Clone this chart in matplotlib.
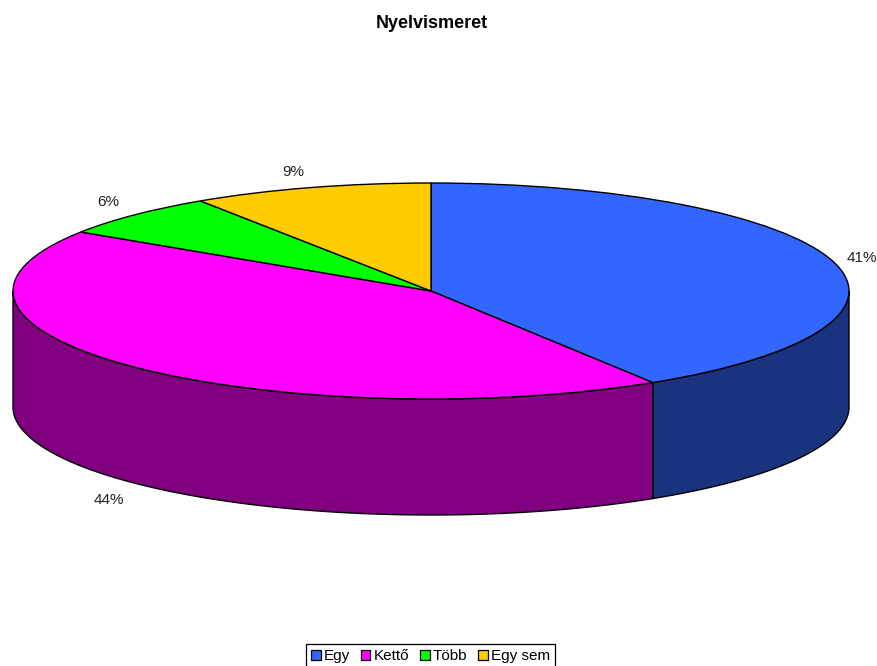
import numpy as np
import matplotlib
matplotlib.use("Agg")
import matplotlib.pyplot as plt
from matplotlib.patches import Patch

plt.rcParams['font.family'] = ['Liberation Sans', 'DejaVu Sans']

labels = ["Egy", "Kettő", "Több", "Egy sem"]
values = [41.1, 43.1, 6.5, 9.3]
pct_labels = ["41%", "44%", "6%", "9%"]
colors = ["#3366FF", "#FF00FF", "#00FF00", "#FFCC00"]
side_colors = ["#1A337F", "#800080", "#008000", "#806600"]

W, H = 877, 666
fig = plt.figure(figsize=(W / 100, H / 100), dpi=100)
# axes over the whole figure, one data unit is the pie radius
cx, cy, rx, ry, depth = 431, 291, 418, 108, 116
ax = fig.add_axes([0, 0, 1, 1])

ax.pie(values, colors=colors, startangle=90, counterclock=False, radius=1,
       wedgeprops=dict(edgecolor="black", linewidth=1.0, zorder=3))
ax.set_aspect("auto")
ax.set_xlim(-cx / rx, (W - cx) / rx)
ax.set_ylim(-(H - cy) / ry, cy / ry)
ax.axis("off")

# walls of the cake, only the front half shows
d = depth / ry
ends = np.cumsum(values) / sum(values) * 360
starts = ends - np.array(values) / sum(values) * 360
for s, e, c in zip(starts, ends, side_colors):
    a0, a1 = max(s, 90), min(e, 270)
    if a0 >= a1:
        continue
    a = np.radians(np.linspace(a0, a1, 100))
    x = np.sin(a)
    y = np.cos(a)
    ax.fill(np.r_[x, x[::-1]], np.r_[y, y[::-1] - d], facecolor=c,
            edgecolor="black", linewidth=1.0, zorder=2)

# percent labels sit outside the rim
label_pos = [(862, 258), (108.5, 500), (108, 202), (293, 172)]
for t, (px, py) in zip(pct_labels, label_pos):
    ax.text((px - cx) / rx, (cy - py) / ry, t, ha="center", va="center",
            fontsize=11, color="#222222")

fig.text(431.5 / W, 1 - 24 / H, "Nyelvismeret", ha="center", va="center",
         fontsize=13, fontweight="bold")

handles = [Patch(facecolor=c, edgecolor="black", linewidth=0.9) for c in colors]
leg = fig.legend(handles, labels, loc="center", bbox_to_anchor=(430.5 / W, 1 - 656 / H),
                 ncol=4, fontsize=11, frameon=True, fancybox=False, framealpha=1,
                 edgecolor="black", handlelength=0.65, handleheight=0.65,
                 handletextpad=0.22, columnspacing=0.68, borderpad=0.3,
                 borderaxespad=0)
leg.get_frame().set_linewidth(0.9)

fig.savefig("out.png", dpi=100)
